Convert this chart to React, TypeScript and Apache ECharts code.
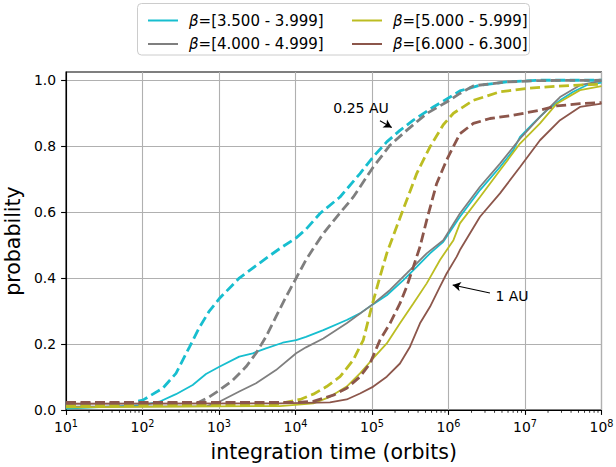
import React, { useEffect, useRef } from "react";
import * as echarts from "echarts";

// ---- data (x = integration time in orbits, y = probability) ----
const legendNames = [
  "β=[3.500 - 3.999]",
  "β=[4.000 - 4.999]",
  "β=[5.000 - 5.999]",
  "β=[6.000 - 6.300]",
];
const colors = ["#17becf", "#7f7f7f", "#bcbd22", "#8c564b"];

// 0.25 AU (dashed)
const cyanDashed = [[10,0.012],[41,0.018],[67,0.02],[101,0.03],[184,0.066],[274,0.111],[409,0.19],[552,0.25],[747,0.3],[1010,0.338],[1840,0.4],[4110,0.46],[6270,0.49],[10200,0.522],[13700,0.548],[20900,0.596],[38200,0.646],[69700,0.717],[104000,0.768],[156000,0.813],[232000,0.848],[347000,0.879],[633000,0.919],[1160000,0.955],[1410000,0.968],[2580000,0.985],[5760000,0.995],[15700000,1.0],[100000000,1.0]];
const grayDashed = [[10,0.019],[500,0.019],[747,0.04],[1010,0.06],[1510,0.09],[2250,0.131],[3050,0.172],[4110,0.222],[5560,0.283],[7520,0.343],[10200,0.4],[13700,0.455],[17100,0.49],[23100,0.535],[31200,0.573],[57000,0.646],[104000,0.737],[172000,0.803],[284000,0.848],[519000,0.899],[946000,0.934],[1410000,0.96],[2110000,0.983],[5760000,0.995],[15700000,0.999],[100000000,1.0]];
const oliveDashed = [[10,0.013],[5000,0.015],[11500,0.032],[17100,0.048],[25500,0.071],[38200,0.101],[57000,0.152],[76900,0.212],[99000,0.313],[127000,0.404],[156000,0.475],[210000,0.556],[284000,0.636],[384000,0.717],[573000,0.798],[855000,0.865],[1160000,0.9],[2110000,0.939],[4710000,0.965],[10500000,0.975],[26000000,0.982],[70800000,0.987],[100000000,0.988]];
const brownDashed = [[10,0.023],[10000,0.023],[17100,0.026],[31200,0.045],[46700,0.066],[69700,0.101],[94100,0.141],[127000,0.212],[172000,0.263],[232000,0.323],[284000,0.374],[347000,0.434],[424000,0.495],[519000,0.576],[701000,0.687],[946000,0.758],[1410000,0.838],[2110000,0.869],[3490000,0.884],[7040000,0.894],[15700000,0.909],[26000000,0.922],[52300000,0.929],[100000000,0.932]];

// 1 AU (solid)
const cyanSolid = [[10,0.004],[101,0.015],[166,0.025],[274,0.048],[453,0.076],[676,0.109],[1010,0.131],[1840,0.162],[2760,0.172],[4110,0.187],[6800,0.204],[10200,0.212],[13700,0.222],[23100,0.242],[46700,0.273],[69700,0.293],[99000,0.318],[156000,0.348],[257000,0.394],[384000,0.434],[573000,0.475],[855000,0.51],[1410000,0.586],[2580000,0.667],[4710000,0.737],[7040000,0.788],[8610000,0.828],[12800000,0.869],[19200000,0.909],[28700000,0.939],[42800000,0.965],[64000000,0.985],[100000000,0.993]];
const graySolid = [[10,0.01],[700,0.012],[1010,0.025],[1840,0.056],[3050,0.081],[5560,0.121],[10200,0.172],[13700,0.19],[23100,0.217],[46700,0.263],[99000,0.318],[172000,0.364],[284000,0.414],[519000,0.475],[855000,0.515],[1410000,0.596],[2580000,0.677],[4710000,0.747],[8610000,0.823],[15700000,0.889],[28700000,0.949],[52300000,0.985],[100000000,0.998]];
const oliveSolid = [[10,0.008],[6270,0.012],[17100,0.02],[28200,0.04],[46700,0.071],[69700,0.111],[104000,0.157],[156000,0.202],[232000,0.263],[347000,0.323],[519000,0.384],[774000,0.455],[1160000,0.515],[1410000,0.566],[2580000,0.646],[4710000,0.727],[8610000,0.808],[15700000,0.869],[26000000,0.929],[52300000,0.97],[100000000,0.982]];
const brownSolid = [[10,0.019],[6270,0.02],[28200,0.023],[46700,0.032],[69700,0.05],[104000,0.071],[156000,0.101],[232000,0.141],[314000,0.192],[424000,0.263],[573000,0.313],[774000,0.374],[946000,0.414],[1280000,0.465],[1410000,0.485],[2580000,0.586],[4710000,0.657],[8610000,0.737],[15700000,0.818],[28700000,0.879],[52300000,0.919],[100000000,0.929]];

const yTicks = [0, 0.2, 0.4, 0.6, 0.8, 1.0];
const xMin = 10;
const xMax = 100000000;

// annotations
const arrow025 = { from: [127000, 0.877], to: [181000, 0.857], text: "0.25 AU", at: [71800, 0.915] };
const arrow1 = { from: [3480000, 0.355], to: [1135000, 0.379], text: "1 AU", at: [6760000, 0.345] };

const FONT = "DejaVu Sans";

export default function App() {
  const ref = useRef<HTMLDivElement>(null);
  useEffect(() => {
    if (!ref.current) return;
    const chart = echarts.init(ref.current, undefined, { renderer: "svg" });

    const minorTicks: number[][] = [];
    for (let e = 1; e < 8; e++) {
      for (let m = 2; m <= 9; m++) minorTicks.push([m * Math.pow(10, e), 0]);
    }

    const solids = [cyanSolid, graySolid, oliveSolid, brownSolid];
    const dashes = [cyanDashed, grayDashed, oliveDashed, brownDashed];
    const series: any[] = [];
    for (let i = 0; i < 4; i++) {
      series.push({
        type: "line",
        name: legendNames[i] + " (0.25 AU)",
        data: dashes[i],
        showSymbol: false,
        symbol: "none",
        color: colors[i],
        lineStyle: { width: 2.8, type: [10, 4.5], color: colors[i] },
        z: 3,
        silent: true,
      });
      series.push({
        type: "line",
        name: legendNames[i],
        data: solids[i],
        showSymbol: false,
        symbol: "none",
        color: colors[i],
        lineStyle: { width: 1.8, color: colors[i] },
        z: 3,
        silent: true,
      });
    }
    series.push({
      type: "custom",
      name: "minor",
      data: minorTicks,
      clip: false,
      silent: true,
      z: 5,
      renderItem: (_p: any, api: any) => {
        const pt = api.coord([api.value(0), 0]);
        return {
          type: "line",
          shape: { x1: pt[0], y1: pt[1], x2: pt[0], y2: pt[1] + 2.8 },
          style: { stroke: "#000", lineWidth: 0.8 },
        };
      },
    });
    series.push({
      type: "line",
      name: "annotations",
      data: [],
      silent: true,
      markLine: {
        silent: true,
        symbol: ["none", "arrow"],
        symbolSize: [7, 8],
        label: { show: false },
        lineStyle: { color: "#000", width: 1.1, type: "solid" },
        data: [
          [{ coord: arrow025.from }, { coord: arrow025.to }],
          [{ coord: arrow1.from }, { coord: arrow1.to }],
        ],
      },
      markPoint: {
        silent: true,
        symbolSize: 0,
        label: {
          show: true,
          position: "inside",
          color: "#000",
          fontFamily: FONT,
          fontSize: 14,
          formatter: (p: any) => p.name,
        },
        data: [
          { name: arrow025.text, coord: arrow025.at },
          { name: arrow1.text, coord: arrow1.at },
        ],
      },
    });

    const legendCommon = {
      orient: "vertical",
      top: 6.5,
      itemWidth: 30,
      itemHeight: 2,
      itemGap: 5.5,
      icon: "rect",
      z: 6,
      textStyle: {
        fontFamily: FONT,
        fontSize: 15,
        color: "#000",
        lineHeight: 18,
        padding: [0, 0, 0, 6],
        rich: {
          i: { fontFamily: FONT, fontSize: 15, fontStyle: "italic", lineHeight: 18 },
        },
      },
      formatter: (n: string) => n.replace("β", "{i|β}"),
    };

    chart.setOption({
      animation: false,
      backgroundColor: "#fff",
      textStyle: { fontFamily: FONT },
      graphic: [
        {
          type: "rect",
          z: 1,
          shape: { x: 137.5, y: 3.5, width: 392, height: 51.5, r: 4 },
          style: { fill: "rgba(255,255,255,0.85)", stroke: "#cccccc", lineWidth: 1 },
        },
      ],
      legend: [
        { ...legendCommon, left: 143, data: [legendNames[0], legendNames[1]] },
        { ...legendCommon, left: 347, data: [legendNames[2], legendNames[3]] },
      ],
      grid: {
        left: 66,
        right: 14.5,
        top: 72,
        bottom: 57,
        containLabel: false,
        outerBoundsMode: "none",
        show: true,
        borderColor: "#000",
        borderWidth: 1.1,
        backgroundColor: "transparent",
      },
      xAxis: {
        type: "log",
        logBase: 10,
        min: xMin,
        max: xMax,
        name: "integration time (orbits)",
        nameLocation: "middle",
        nameGap: 31,
        nameTextStyle: { fontFamily: FONT, fontSize: 20.5, color: "#000" },
        axisLine: { lineStyle: { color: "#000", width: 1.1 } },
        axisTick: { show: true, length: 4.9, lineStyle: { color: "#000", width: 1.1 } },
        minorTick: { show: false },
        splitLine: { show: true, lineStyle: { color: "#b0b0b0", width: 1.1 } },
        axisLabel: {
          color: "#000",
          fontFamily: FONT,
          fontSize: 13.9,
          margin: 8,
          formatter: (v: number) => "10{sup|" + Math.round(Math.log10(v)) + "}",
          rich: {
            sup: { fontFamily: FONT, fontSize: 9.7, color: "#000", padding: [0, 0, 8, 0] },
          },
        },
      },
      yAxis: {
        type: "value",
        min: 0,
        max: 1.025,
        interval: 0.2,
        name: "probability",
        nameLocation: "middle",
        nameGap: 38,
        nameTextStyle: { fontFamily: FONT, fontSize: 20.5, color: "#000" },
        axisLine: { show: true, lineStyle: { color: "#000", width: 1.1 } },
        axisTick: { show: true, length: 4.9, lineStyle: { color: "#000", width: 1.1 }, customValues: yTicks },
        splitLine: { show: true, lineStyle: { color: "#b0b0b0", width: 1.1 } },
        axisLabel: {
          color: "#000",
          fontFamily: FONT,
          fontSize: 13.9,
          margin: 10,
          customValues: yTicks,
          formatter: (v: number) => v.toFixed(1),
        },
      },
      series,
    });
    return () => chart.dispose();
  }, []);
  return (
    <div
      ref={ref}
      style={{ position: "fixed", left: 0, top: 0, width: 616, height: 467, background: "#fff" }}
    />
  );
}
